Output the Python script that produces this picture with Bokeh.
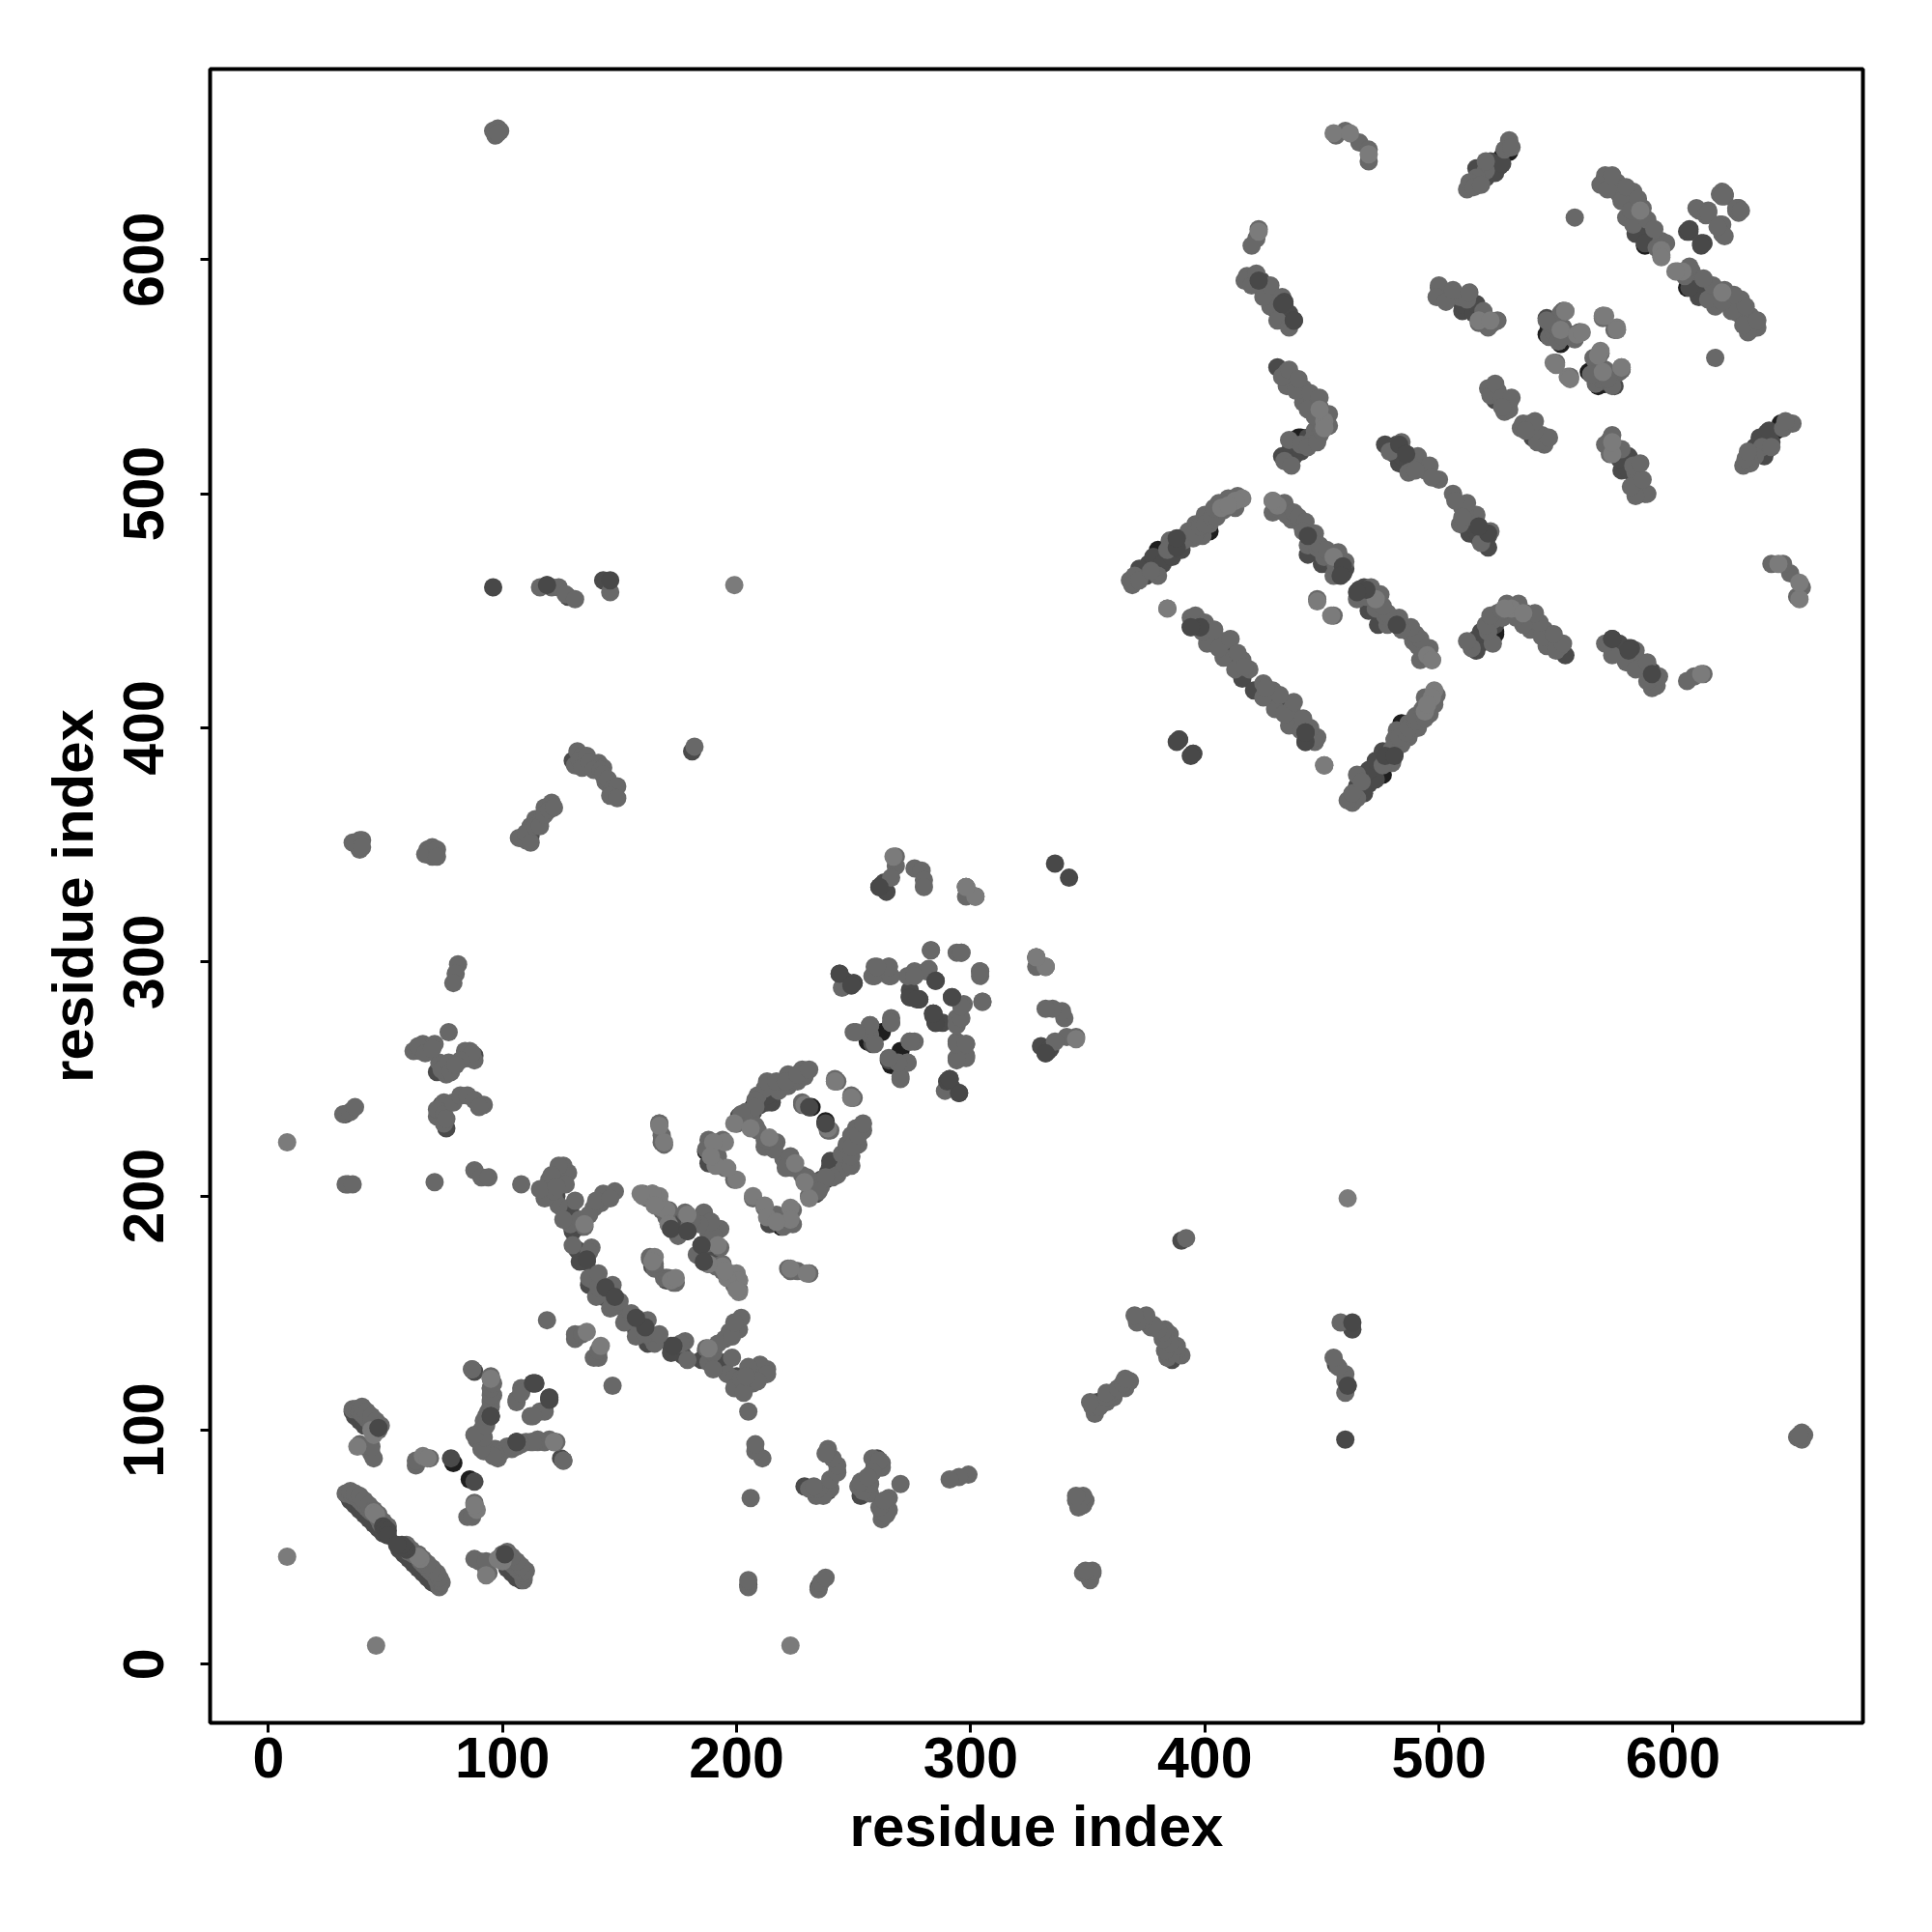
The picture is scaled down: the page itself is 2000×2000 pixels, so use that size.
from bokeh.plotting import figure
from bokeh.models import Range1d, FixedTicker
from bokeh.embed import file_html
from bokeh.resources import INLINE

x_ticks = [0, 100, 200, 300, 400, 500, 600]
y_ticks = [0, 100, 200, 300, 400, 500, 600]
axis_title = "residue index"

# contacts (i, j) with i < j; each is drawn also as (j, i)
black_contacts = [
    (34,72),(36,71),(38,69),(40,67),(42,65),(44,63),(46,61),(48,58),(50,56),(37,108),(39,107),(41,104),
    (79,86),(134,187),(126,208),(165,170),(231,238),(238,232),(187,219),(207,238),(262,270),(256,266),
    (380,476),(383,473),(379,471),(435,516),(440,524),(437,520),(486,517),(483,519),(530,646),(527,644),
    (547,571),(546,568),(552,564),(567,551),(571,547),(590,610),(588,606),(397,482),(441,524),(402,484),
]
dark_contacts = [
    (36,108),(38,107),(40,105),(42,103),(78,88),(95,106),(88,125),(119,203),(123,200),(129,195),(132,177),
    (136,172),(144,161),(148,155),(172,186),(177,185),(185,179),(164,170),(188,214),(212,242),(215,240),
    (221,188),(243,213),(236,207),(234,204),(244,295),(246,292),(250,291),(274,285),(278,284),(284,278),
    (288,274),(292,285),(265,258),(290,249),(292,246),(261,332),(263,334),(330,264),(333,262),(68,346),
    (33,235),(34,205),(69,262),(72,253),(74,239),(76,229),(85,259),(88,260),(119,365),(112,354),(130,386),
    (119,461),(128,456),(143,463),(181,390),(375,465),(376,470),(388,477),(389,481),(444,482),(444,474),
    (398,443),(402,440),(413,429),(416,421),(389,395),(431,554),(437,520),(441,518),(444,524),(424,591),
    (434,581),(438,574),(434,574),(477,521),(482,521),(483,513),(504,585),(510,578),(514,582),(546,575),
    (572,550),(566,551),(524,540),(578,553),(587,611),(591,613),(607,612),(588,500),(581,516),(522,642),
    (526,640),(518,636),(460,468),(459,466),(466,459),
    (35,70),(37,68),(39,66),(41,64),(43,62),(45,60),(47,58),(49,56),(37,106),(39,104),(41,102),
    (133,172),(137,162),(143,157),(130,185),(171,188),(175,190),(201,234),(210,239),(213,240),(216,246),
    (372,468),(378,473),(382,470),(386,473),(390,476),(450,470),(453,470),(438,516),(440,520),(433,516),
    (481,517),(484,516),(487,513),(510,581),(515,577),(430,579),(436,577),(584,611),(588,607),(516,639),
    (520,635),(524,637),(527,641),(403,437),(410,434),(548,573),(570,551),(573,550),(570,548),
]
mid_contacts = [
    (33,73),(35,73),(36,72),(38,71),(39,70),(40,69),(41,68),(42,67),(43,66),(44,65),(47,62),(48,60),
    (35,74),(37,73),(39,72),(41,70),(43,68),(45,66),(47,64),(49,61),(51,59),
    (36,109),(37,109),(38,109),(39,108),(40,107),(41,106),(42,105),(43,104),(44,103),(45,102),(46,101),
    (47,100),(39,94),(41,93),(44,90),(45,88),(44,93),(40,110),(42,108),(44,106),(46,104),(48,102),
    (63,85),(64,87),(66,88),(69,88),(63,87),(87,126),(95,122),(95,118),(96,115),(95,113),(94,108),(92,104),
    (91,100),(90,97),(89,96),(92,91),(97,92),(98,88),(102,93),(106,93),(110,95),(108,118),(106,113),
    (112,106),(116,108),(113,120),(120,114),(112,95),(115,95),(118,95),(120,96),(123,95),(126,87),
    (119,147),(131,139),(131,141),(134,141),(148,153),(145,158),(140,157),(139,164),(138,178),(135,187),
    (142,197),(143,201),(148,202),(139,195),(129,188),(131,198),(124,196),(121,201),(124,206),(126,213),
    (125,211),(124,209),(122,207),(120,205),(118,202),(130,179),(137,165),(141,161),(160,201),(164,201),
    (146,152),(150,155),(147,162),(141,167),(137,176),(133,190),(137,192),(140,198),(146,199),(126,190),
    (122,199),(118,199),(122,202),(120,207),(116,203),(128,210),(124,213),(121,209),(127,205),(123,204),
    (167,197),(170,191),(178,193),(186,193),(192,186),(183,175),(163,173),(169,165),(171,165),(174,163),
    (162,199),(165,198),(168,194),(171,194),(180,188),(183,190),(189,189),(188,184),(190,181),
    (167,231),(168,223),(188,224),(194,224),(187,220),(192,217),(195,212),(199,207),(200,231),(206,230),
    (204,233),(206,234),(209,243),(212,246),(218,245),(222,247),(226,249),(229,251),(228,254),(222,252),
    (204,236),(208,241),(208,238),(202,235),(213,249),(217,249),(221,249),(226,252),(231,254),(212,224),
    (217,223),(212,221),(220,216),(223,216),(224,213),(228,209),(231,200),(230,208),(228,240),(239,228),
    (242,250),(249,243),(222,169),(226,168),(231,167),(245,289),(259,298),(259,294),(265,294),(265,298),
    (283,305),(294,304),(296,304),(273,294),(276,296),(281,296),(297,282),(304,296),(305,283),(294,276),
    (294,266),(298,265),(294,258),(298,260),(250,270),(257,273),(257,269),(259,265),(266,276),(266,274),
    (274,266),(273,257),(270,251),(268,345),(268,341),(266,336),(276,340),(279,339),(280,335),(280,332),
    (298,332),(302,328),(328,302),(328,298),(332,298),
    (32,235),(35,236),(37,238),(33,205),(36,205),(38,350),(39,352),(39,348),(68,348),(70,349),(70,345),
    (36,351),(40,352),(40,349),(67,346),(72,348),(72,345),(96,655),(99,655),
    (97,653),(98,656),(98,654),(116,460),(121,460),(124,460),(127,457),(131,455),(146,458),(182,392),
    (107,353),(110,352),(112,358),(114,361),(117,362),(118,366),(121,368),(132,390),(134,388),(131,384),
    (110,355),(112,351),(114,358),(116,358),(118,363),(120,365),(122,366),
    (133,386),(136,388),(138,384),(141,385),(143,383),(146,375),(148,372),(144,377),
    (134,383),(137,385),(139,382),(142,382),(143,380),(145,378),(147,374),(149,375),(146,371),(149,370),
    (81,299),(80,295),(79,291),(62,262),(65,262),(66,265),(71,265),(68,262),(73,257),(75,255),(76,252),
    (64,264),(67,261),(70,263),(74,254),(77,257),(86,262),(88,258),(72,234),
    (78,253),(77,270),(84,262),(87,261),(82,258),(80,256),(75,240),(72,237),(75,235),(75,231),(76,233),
    (79,240),(82,243),(85,243),(88,241),(92,239),(90,238),(71,206),(88,211),(91,208),(94,208),(108,205),
    (368,463),(370,465),(380,465),(385,480),(395,481),(399,482),(396,487),(402,487),(400,491),(406,496),
    (369,461),(372,463),(377,467),(384,476),(391,480),(393,484),(396,483),(398,486),(400,487),(403,490),
    (405,490),(408,493),(410,498),(413,494),(414,499),(404,494),
    (429,497),(433,493),(429,492),(437,489),(441,487),(444,478),(448,477),(451,473),(455,473),(455,465),
    (431,494),(435,491),(434,496),(438,492),(440,490),(443,488),(442,484),(446,480),(447,483),(449,478),
    (452,476),(456,469),(457,475),(460,471),
    (394,447),(394,443),(401,436),(408,437),(408,430),(416,429),(419,425),(448,455),(384,451),
    (395,445),(396,448),(399,441),(400,445),(404,442),(406,434),(411,438),(414,432),(413,425),(417,426),
    (435,552),(435,546),(442,545),(442,539),(446,540),(449,537),(447,527),(434,514),
    (433,550),(436,553),(439,544),(440,549),(445,543),(444,536),(447,533),(449,541),(453,534),(453,529),
    (449,525),(446,523),(436,523),(437,512),(441,521),(444,520),(448,522),(450,527),
    (456,653),(460,655),(466,650),(470,647),(470,642),(423,613),(422,609),(420,606),(418,593),(417,591),
    (426,586),(430,584),(428,580),(431,574),(530,651),(520,638),(516,635),(512,630),(570,633),(558,618),
    (420,589),(422,594),(425,584),(428,589),(433,584),(436,571),
    (513,633),(515,631),(518,632),(520,642),(528,647),(531,648),
    (500,589),(499,584),(509,584),(512,583),(517,573),(523,573),(553,578),(551,569),(547,567),(560,569),
    (503,582),(506,587),(513,586),(519,578),(521,571),(525,574),
    (549,569),(553,571),(556,568),(549,572),(567,553),(575,551),(577,552),
    (557,567),(551,565),(570,575),(576,570),(550,556),(569,560),(566,558),(574,546),(521,545),(525,544),
    (530,539),(528,535),(490,514),(487,509),(494,510),(500,506),(571,636),(569,632),(576,633),(577,628),
    (522,542),(524,547),(527,541),(530,536),(531,541),(527,537),
    (479,518),(484,522),(491,516),(492,511),(496,512),(497,507),(490,510),
    (583,629),(583,626),(587,622),(580,618),(583,615),(595,608),(595,602),(622,628),(615,621),(611,621),
    (572,630),(574,636),(578,625),(580,631),(582,621),(585,626),(589,617),(592,613),(593,605),(597,607),
    (628,622),(620,615),(620,628),(622,627),(621,629),(627,621),(610,622),(614,619),
]
light_contacts = [
    (8,46),(8,223),(45,65),(46,64),(44,100),(45,98),(38,93),(66,89),(68,88),(122,95),(136,142),(135,188),
    (160,200),(168,195),(179,192),(165,174),(172,164),(200,167),(201,164),(201,159),(194,170),(196,165),
    (188,171),(207,200),(212,196),(223,195),(223,190),(213,191),(217,189),(199,231),(206,229),(225,214),
    (239,229),(242,249),(249,242),(199,461),(407,494),(416,498),(413,497),(410,495),(431,495),
    (473,455),(429,497),(451,531),(451,528),(455,654),(462,654),(470,645),(423,612),(517,574),(522,574),
    (586,621),(595,604),(595,601),(554,578),(552,570),(559,568),(570,576),(576,571),(549,556),(555,550),
    (569,561),(578,554),(451,384),(448,454),(449,536),(230,167),(223,169),(332,298),(302,328),(267,345),
]
top_contacts = [
    (49,59),(50,58),(51,57),(51,55),(47,101),(113,120),(120,114),(95,106),(106,95),(144,161),(148,157),
    (172,186),(185,179),(244,295),(250,291),(274,285),(278,284),(284,277),(292,285),(290,249),(336,342),
    (96,460),(146,463),(438,574),(434,582),(388,477),(388,481),(444,482),(459,469),(458,465),(398,443),
    (443,398),(443,394),(423,591),(433,581),(438,574),(606,612),(613,607),(521,483),(517,486),(389,395),
    (388,394),(261,332),(119,461),(136,173),(231,238),
]

shades = [
    (black_contacts, "#1e1e1e"),
    (dark_contacts, "#4a4a4a"),
    (mid_contacts, "#686868"),
    (light_contacts, "#7b7b7b"),
    (top_contacts, "#484848"),
]

FONT = "Liberation Sans"

p = figure(
    output_backend="svg", toolbar_location=None,
    frame_width=1711, frame_height=1712,
    min_border_left=217, min_border_top=71, min_border_right=40, min_border_bottom=150,
    x_range=Range1d(-24.9, 681.1), y_range=Range1d(-25.0, 681.4),
    background_fill_color="white", border_fill_color="white",
)

for contacts, colour in shades:
    xs = [a for a, b in contacts] + [b for a, b in contacts]
    ys = [b for a, b in contacts] + [a for a, b in contacts]
    p.scatter(xs, ys, marker="circle", size=19, fill_color=colour, line_color=None)

p.grid.visible = False
p.outline_line_color = "black"
p.outline_line_width = 4

p.xaxis.ticker = FixedTicker(ticks=x_ticks)
p.yaxis.ticker = FixedTicker(ticks=y_ticks)
for ax in (p.xaxis[0], p.yaxis[0]):
    ax.axis_line_color = None
    ax.major_tick_line_color = "black"
    ax.major_tick_line_width = 3
    ax.major_tick_out = 10
    ax.major_tick_in = 0
    ax.minor_tick_line_color = None
    ax.major_label_text_font = FONT
    ax.major_label_text_font_style = "bold"
    ax.major_label_text_font_size = "59px"
    ax.major_label_text_color = "black"
    ax.axis_label = axis_title
    ax.axis_label_text_font = FONT
    ax.axis_label_text_font_style = "bold"
    ax.axis_label_text_font_size = "60px"
    ax.axis_label_text_color = "black"
p.yaxis[0].major_label_orientation = "parallel"
p.xaxis[0].major_label_standoff = 5
p.yaxis[0].major_label_standoff = 38
p.xaxis[0].axis_label_standoff = 14
p.yaxis[0].axis_label_standoff = 17

open("out.html", "w").write(file_html(p, INLINE))
